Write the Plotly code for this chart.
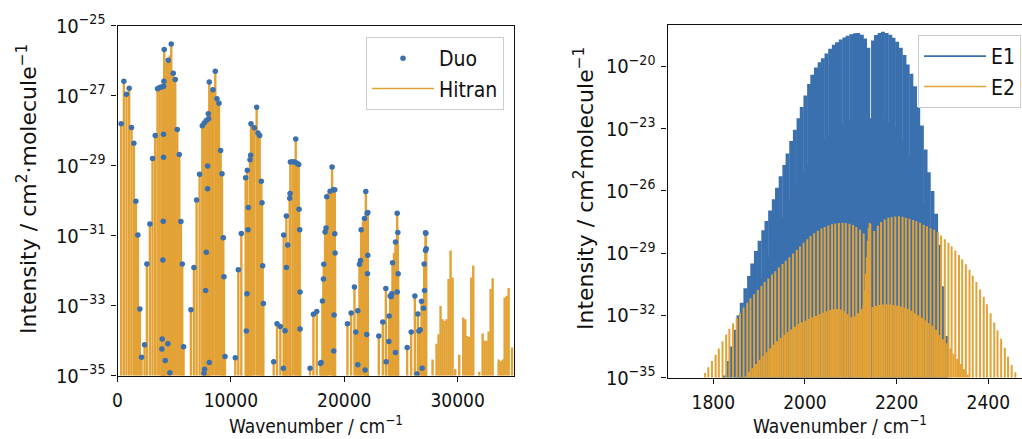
import numpy as np
import plotly.graph_objects as go

# ---------------- Left panel: overtone bands (Duo vs Hitran) ----------------
duo_wavenumber = [
    324, 559, 795, 1030, 1236, 1443, 1619, 1796, 1972, 2120, 2385,
    2591, 2856, 3091, 3327, 3533, 3709, 3886, 3916, 3945, 4004, 4033, 4063, 4063, 4063,
    4092, 4122, 4210, 4445, 4475, 4622, 4740, 4916, 5093, 5270, 5446, 5594, 5711, 5829,
    6477, 6742, 6977, 7242, 7478, 7625, 7654, 7684, 7772, 7831, 7831, 7949, 7949, 8008,
    8037, 8096, 8096, 8420, 8626, 8773, 8950, 9097, 9215, 9332, 9391, 9480,
    10392, 10657, 10922, 11303, 11362, 11421, 11451, 11509, 11539, 11686, 11745, 11774,
    12069, 12275, 12393, 12540, 12687, 12746, 12805, 12864,
    13776, 14071, 14365, 14630, 14659, 14777, 14895, 14895, 15013, 15189, 15219, 15248,
    15454, 15631, 15719, 15837, 15984, 16014, 16073, 16102, 16102,
    16985, 17280, 17574, 17898, 17957, 18075, 18163, 18192, 18310, 18398, 18457, 18752,
    18929, 19046, 19075, 19105, 19164, 19164, 19193,
    20283, 20607, 20901, 21019, 21195, 21195, 21342, 21431, 21490, 21784, 21843, 21902,
    21990, 22020, 22049, 22078, 22078,
    23049, 23403, 23668, 23697, 23933, 23962, 24050, 24139, 24197, 24256, 24521, 24521,
    24669, 24669, 24727, 24757,
    25552, 25905, 26229, 26405, 26494, 26582, 26700, 26818, 26876, 26994, 27053, 27083,
    27171, 27171, 27200, 27230,
]
duo_log_intensity = [
    -27.80, -26.59, -26.96, -26.79, -27.91, -28.36, -30.02, -30.98, -33.10, -34.48, -34.12,
    -31.81, -30.67, -28.80, -28.14, -26.80, -26.77, -26.75, -34.24, -33.96, -31.70, -30.59, -26.73, -28.10, -28.76,
    -26.59, -25.68, -34.57, -34.09, -25.99, -34.92, -25.52, -26.36, -26.54, -27.97, -28.68, -30.60, -31.81, -34.18,
    -33.12, -31.91, -29.98, -29.25, -27.86, -34.94, -27.78, -34.82, -32.57, -27.71, -31.48, -29.01, -29.66, -27.52,
    -27.66, -34.63, -26.61, -26.83, -26.30, -27.09, -27.22, -28.57, -29.23, -31.06, -32.18, -34.46,
    -34.49, -31.98, -30.94, -29.35, -33.73, -32.66, -29.13, -30.83, -30.20, -28.83, -28.70, -27.80,
    -27.92, -27.33, -28.07, -28.14, -29.45, -30.06, -31.86, -32.94,
    -34.61, -33.52, -33.60, -34.79, -30.98, -33.72, -30.44, -31.91, -31.27, -29.93, -29.80, -28.90,
    -28.89, -28.90, -28.24, -28.93, -28.97, -30.25, -30.83, -32.61, -33.67,
    -34.79, -33.25, -33.17, -34.66, -34.63, -32.87, -32.24, -31.82, -30.90, -30.78, -29.89, -29.73,
    -29.04, -29.69, -34.30, -33.27, -29.69, -30.95, -31.50,
    -33.52, -33.21, -32.47, -33.76, -33.15, -34.69, -31.82, -31.71, -30.83, -30.51, -34.84, -29.74,
    -33.83, -30.36, -32.09, -30.34, -31.56,
    -33.87, -33.47, -32.51, -34.61, -34.03, -33.30, -32.73, -32.75, -32.66, -31.78, -34.34, -31.18,
    -30.36, -32.61, -30.91, -32.09,
    -34.20, -33.76, -32.73, -34.96, -33.24, -33.73, -33.69, -32.88, -34.79, -33.08, -31.81, -32.57,
    -31.43, -30.92, -30.93, -31.38,
]
# Hitran lines: same lines as Duo plus these additional ones
hitran_extra_wavenumber = [
    4300, 4610, 8260, 11920, 18600, 21640, 24390,
    27789, 28143, 28319, 28496, 28672, 28849, 29026, 29203, 29379, 29556, 29791,
    30144, 30498, 30674, 30851, 31028, 31204, 31381, 31911,
    32205, 32382, 32559, 32735, 32912, 33089, 33618, 33795, 33972, 34148, 34325, 34501, 34796,
]
hitran_extra_log_intensity = [
    -26.05, -25.85, -26.85, -27.85, -29.78, -30.60, -31.50,
    -34.54, -34.09, -33.82, -33.01, -33.39, -33.44, -33.39, -32.24, -31.43, -32.20, -34.82,
    -34.41, -33.34, -33.39, -33.87, -33.90, -32.20, -31.86, -34.89,
    -33.80, -34.01, -34.01, -33.74, -32.53, -32.22, -34.54, -34.59, -34.54, -32.77, -32.72, -32.50, -34.20,
]

# ---------------- Right panel: fundamental band, E1 and E2 ----------------
e1_wavenumber = [
    1824, 1832, 1839, 1847, 1855, 1862, 1870, 1878, 1885, 1893, 1901, 1909, 1916, 1924,
    1932, 1939, 1947, 1955, 1962, 1970, 1978, 1986, 1993, 2001, 2009, 2016, 2024, 2032,
    2039, 2047, 2055, 2063, 2070, 2078, 2086, 2093, 2101, 2109, 2116, 2124, 2131, 2138,
    2148.5, 2155, 2163, 2170, 2178, 2186, 2193, 2201, 2209, 2217, 2224, 2232, 2240, 2247,
    2255, 2263, 2270, 2278, 2286, 2294, 2301, 2309,
]
e1_log_intensity = [
    -34.90, -34.20, -33.50, -32.70, -32.00, -31.40, -30.70, -30.10, -29.50, -28.90, -28.40, -27.90, -27.45, -26.95,
    -26.40, -25.85, -25.30, -24.75, -24.20, -23.60, -23.05, -22.50, -21.95, -21.40, -20.85, -20.40, -20.05, -19.80,
    -19.60, -19.37, -19.15, -18.95, -18.83, -18.70, -18.60, -18.52, -18.45, -18.40, -18.38, -18.47, -18.65, -19.10,
    -18.75, -18.48, -18.38, -18.33, -18.38, -18.47, -18.62, -18.81, -19.10, -19.45, -19.90, -20.35, -20.95, -21.95,
    -22.85, -24.00, -25.10, -26.00, -27.10, -28.60, -30.60, -33.00,
]
e1_weak_wavenumber = [
    1851, 1858, 1866, 1874, 1881, 1889, 1897, 1905, 1912, 1920, 1928, 1935, 1943, 1951,
    1958, 1966, 1974, 1982, 1989, 1997, 2005, 2012, 2020, 2028, 2036, 2043, 2051, 2059,
    2066, 2074, 2082, 2089, 2097, 2105, 2112, 2120, 2128, 2135, 2143,
    2151, 2159, 2166, 2174, 2182, 2189, 2197, 2205, 2213, 2220, 2228, 2236, 2243, 2251,
    2259, 2266, 2274, 2282, 2290, 2297, 2305,
]
e1_weak_log_intensity = [
    -34.6, -33.9, -33.2, -32.6, -32.0, -31.4, -30.8, -30.2, -29.7, -29.2, -28.7, -28.2, -27.7, -27.3,
    -26.9, -26.5, -26.1, -25.7, -25.4, -25.1, -24.8, -24.5, -24.2, -23.95, -23.7, -23.5, -23.3, -23.1,
    -22.95, -22.85, -22.75, -22.65, -22.6, -22.55, -22.55, -22.6, -22.6, -22.7, -22.5,
    -22.6, -22.5, -22.5, -22.55, -22.65, -22.8, -23.0, -23.25, -23.55, -23.9, -24.3, -24.8, -25.3, -25.9,
    -26.6, -27.4, -28.3, -29.3, -30.5, -32.0, -33.8,
]
e2_wavenumber = [
    1782, 1789, 1797, 1805, 1812, 1820, 1828, 1835, 1843, 1851, 1858, 1866, 1874, 1881,
    1889, 1897, 1905, 1912, 1920, 1928, 1935, 1943, 1951, 1958, 1966, 1974, 1982, 1989,
    1997, 2005, 2012, 2020, 2028, 2036, 2043, 2051, 2059, 2066, 2074, 2082, 2089, 2097,
    2105, 2112, 2120, 2128,
    2151, 2159, 2166, 2174, 2182, 2189, 2197, 2205, 2213, 2220, 2228, 2236, 2243, 2251,
    2259, 2266, 2274, 2282, 2290, 2297, 2305, 2313, 2320, 2328, 2336, 2343, 2351, 2359,
    2366, 2374, 2382, 2390, 2397, 2405, 2413, 2420, 2428, 2436, 2443, 2451, 2459,
]
e2_log_intensity = [
    -34.78, -34.50, -34.20, -33.90, -33.60, -33.25, -32.93, -32.65, -32.38, -32.12, -31.88, -31.63, -31.39, -31.18,
    -30.98, -30.78, -30.58, -30.40, -30.22, -30.03, -29.87, -29.70, -29.53, -29.37, -29.20, -29.02, -28.85, -28.68,
    -28.50, -28.33, -28.18, -28.04, -27.92, -27.82, -27.74, -27.67, -27.61, -27.57, -27.55, -27.54, -27.55, -27.58,
    -27.64, -27.74, -27.88, -28.05,
    -27.94, -27.68, -27.50, -27.38, -27.30, -27.26, -27.23, -27.22, -27.25, -27.29, -27.34, -27.40, -27.46, -27.54,
    -27.63, -27.71, -27.80, -27.88, -27.98, -28.15, -28.33, -28.50, -28.67, -28.88, -29.09, -29.30, -29.54, -29.80,
    -30.09, -30.40, -30.76, -31.11, -31.47, -31.90, -32.35, -32.72, -33.13, -33.57, -34.00, -34.40, -34.75,
]
e2_q_wavenumber = [2128, 2130.5, 2133, 2135, 2137, 2139, 2141, 2142.5]
e2_q_log_intensity = [-31.5, -30.8, -30.0, -29.2, -28.4, -27.8, -27.55, -27.6]
e2_weak_wavenumber = [
    1870, 1878, 1885, 1893, 1901, 1909, 1916, 1924, 1932, 1939, 1947, 1955, 1962, 1970,
    1978, 1986, 1993, 2001, 2009, 2016, 2024, 2032, 2039, 2047, 2055, 2063, 2070, 2078,
    2086, 2093, 2101, 2109, 2116, 2124, 2132,
    2147.5, 2155, 2163, 2170, 2178, 2186, 2193, 2201, 2209, 2217, 2224, 2232, 2240, 2247,
    2255, 2263, 2270, 2278, 2286, 2294, 2301, 2309, 2317, 2324, 2332, 2340, 2347, 2355,
]
e2_weak_log_intensity = [
    -34.95, -34.75, -34.55, -34.35, -34.15, -33.97, -33.78, -33.60, -33.42, -33.25, -33.10, -32.95, -32.82, -32.68,
    -32.55, -32.42, -32.33, -32.26, -32.18, -32.10, -32.03, -31.95, -31.88, -31.80, -31.75, -31.71, -31.70, -31.72,
    -31.80, -31.95, -32.10, -32.05, -31.90, -31.70, -31.60,
    -31.60, -31.55, -31.50, -31.48, -31.47, -31.48, -31.50, -31.54, -31.58, -31.64, -31.70, -31.78, -31.90, -32.00,
    -32.12, -32.25, -32.38, -32.50, -32.70, -32.95, -33.15, -33.35, -33.60, -33.85, -34.10, -34.35, -34.60, -34.85,
]

left_ytick_exponents = [-25, -27, -29, -31, -33, -35]
right_ytick_exponents = [-20, -23, -26, -29, -32, -35]
left_xticks = [0, 10000, 20000, 30000]
right_xticks = [1800, 2000, 2200, 2400]

BLUE = "#3A70AE"
ORANGE = "#E3A236"
FONT = "DejaVu Sans"
FONT_C = "DejaVu Sans Condensed, DejaVu Sans"
INK = "#111111"
W, H = 1022, 439


def sticks(wn, log_i, base_log=-36):
    xs, ys = [], []
    for w, l in zip(wn, log_i):
        xs += [w, w, None]
        ys += [10.0 ** base_log, 10.0 ** l, None]
    return xs, ys


fig = go.Figure()

# Left panel
hx, hy = sticks(list(duo_wavenumber) + hitran_extra_wavenumber,
                list(duo_log_intensity) + hitran_extra_log_intensity)
fig.add_trace(go.Scatter(x=hx, y=hy, mode="lines", line=dict(color=ORANGE, width=2.4),
                         showlegend=False, hoverinfo="skip", xaxis="x", yaxis="y"))
fig.add_trace(go.Scatter(x=duo_wavenumber, y=10.0 ** np.array(duo_log_intensity), mode="markers",
                         marker=dict(color=BLUE, size=5.5), showlegend=False, hoverinfo="skip",
                         xaxis="x", yaxis="y"))
fig.add_trace(go.Scatter(x=[None], y=[None], mode="markers", marker=dict(color=BLUE, size=5.5),
                         name="Duo", legend="legend", xaxis="x", yaxis="y"))
fig.add_trace(go.Scatter(x=[None], y=[None], mode="lines", line=dict(color=ORANGE, width=1.6),
                         name="Hitran", legend="legend", xaxis="x", yaxis="y"))

# Right panel
for wn, li, col, wdt in [
    (e1_weak_wavenumber, e1_weak_log_intensity, BLUE, 2.5),
    (e1_wavenumber, e1_log_intensity, BLUE, 4.0),
    (e2_weak_wavenumber, e2_weak_log_intensity, ORANGE, 2.0),
    (e2_wavenumber, e2_log_intensity, ORANGE, 2.0),
    (e2_q_wavenumber, e2_q_log_intensity, ORANGE, 2.0),
]:
    sx, sy = sticks(wn, li)
    fig.add_trace(go.Scatter(x=sx, y=sy, mode="lines", line=dict(color=col, width=wdt),
                             showlegend=False, hoverinfo="skip", xaxis="x2", yaxis="y2"))
fig.add_trace(go.Scatter(x=[None], y=[None], mode="lines", line=dict(color=BLUE, width=1.6),
                         name="E1", legend="legend2", xaxis="x2", yaxis="y2"))
fig.add_trace(go.Scatter(x=[None], y=[None], mode="lines", line=dict(color=ORANGE, width=1.6),
                         name="E2", legend="legend2", xaxis="x2", yaxis="y2"))

axis_common = dict(showline=True, linecolor=INK, linewidth=1.2, ticks="outside", ticklen=5,
                   tickwidth=1.2, tickcolor=INK, showgrid=False, zeroline=False, automargin=False)
xtickfont = dict(family=FONT_C, size=19, color=INK)
ytickfont = dict(family=FONT_C, size=20, color=INK)


def sup_labels(exps):
    return ["10<sup>\u2212%d</sup>" % (-e) for e in exps]


fig.update_layout(
    width=W, height=H, margin=dict(l=0, r=0, t=0, b=0, autoexpand=False),
    paper_bgcolor="white", plot_bgcolor="white", hovermode=False,
    font=dict(family=FONT, color=INK),
    xaxis=dict(domain=[117.5 / W, 514.3 / W], range=[0, 35000], mirror=True,
               tickvals=left_xticks, ticktext=[str(v) for v in left_xticks],
               tickfont=xtickfont, ticklabelstandoff=3, **axis_common),
    yaxis=dict(domain=[1 - 375.5 / H, 1 - 25.7 / H], type="log", range=[-35, -25], mirror=True,
               tickvals=[10.0 ** e for e in left_ytick_exponents],
               ticktext=sup_labels(left_ytick_exponents), tickfont=ytickfont,
               ticklabelstandoff=2, **axis_common),
    xaxis2=dict(domain=[667.5 / W, 1.0], range=[1700, 2473.5], anchor="y2", mirror=True,
                tickvals=right_xticks, ticktext=[str(v) for v in right_xticks],
                tickfont=xtickfont, ticklabelstandoff=3, **axis_common),
    yaxis2=dict(domain=[1 - 377.5 / H, 1 - 25 / H], type="log", range=[-35, -18], anchor="x2",
                tickvals=[10.0 ** e for e in right_ytick_exponents],
                ticktext=sup_labels(right_ytick_exponents), tickfont=ytickfont,
                ticklabelstandoff=2, **axis_common),
    legend=dict(x=504 / W, y=1 - 37 / H, xanchor="right", yanchor="top", itemwidth=62,
                bgcolor="rgba(255,255,255,0.9)", bordercolor="#cccccc", borderwidth=1,
                font=dict(family=FONT_C, size=21, color=INK)),
    legend2=dict(x=1021 / W, y=1 - 35 / H, xanchor="right", yanchor="top", itemwidth=62,
                 bgcolor="rgba(255,255,255,0.9)", bordercolor="#cccccc", borderwidth=1,
                 font=dict(family=FONT_C, size=21, color=INK)),
)

ytitle_left = "Intensity / cm<sup>2</sup>\u00b7molecule<sup>\u22121</sup>"
ytitle_right = "Intensity / cm<sup>2</sup>molecule<sup>\u22121</sup>"
xtitle = "Wavenumber / cm<sup>\u22121</sup>"
for x, y, text, ang, fam, size in [
    (27, 189, ytitle_left, -90, FONT, 22),
    (584, 189, ytitle_right, -90, FONT, 22),
    (315.5, 425, xtitle, 0, FONT_C, 19),
    (840, 425, xtitle, 0, FONT_C, 19),
]:
    fig.add_annotation(x=x / W, y=1 - y / H, xref="paper", yref="paper", text=text, textangle=ang,
                       showarrow=False, xanchor="center", yanchor="middle",
                       font=dict(family=fam, size=size, color=INK))

fig.write_html("out.html")
